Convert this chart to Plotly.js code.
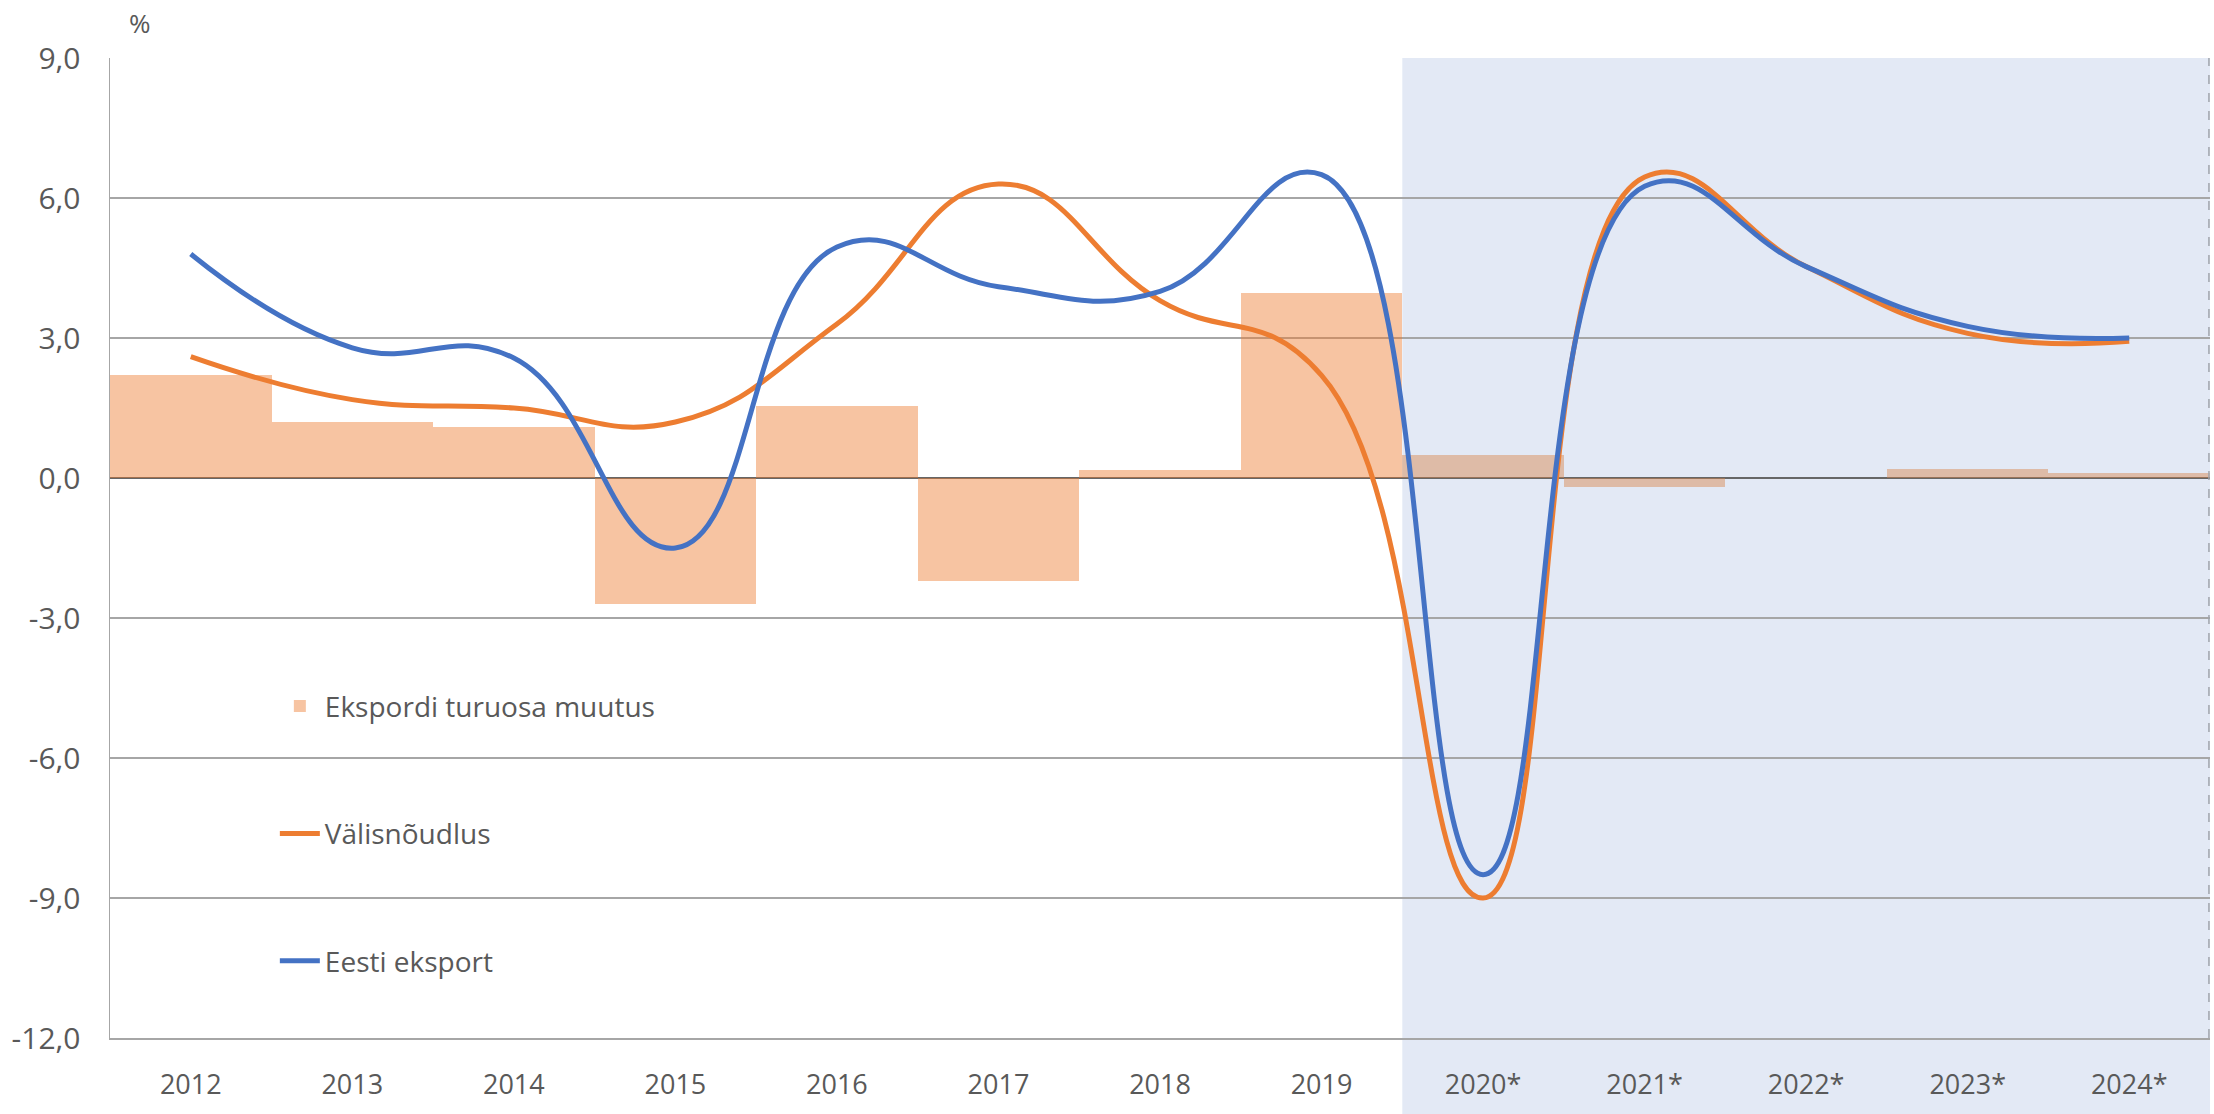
<!DOCTYPE html>
<html>
<head>
<meta charset="utf-8">
<script src="https://cdn.plot.ly/plotly-3.0.1.min.js"></script>
<style>
  html, body { margin: 0; padding: 0; background: #ffffff; }
  #chart { width: 2214px; height: 1114px; }
</style>
</head>
<body>
<div id="chart"></div>
<script>
// ---- data ----
const categories = ['2012', '2013', '2014', '2015', '2016', '2017', '2018', '2019',
                    '2020*', '2021*', '2022*', '2023*', '2024*'];
const turuosaMuutus = [2.2, 1.2, 1.1, -2.7, 1.55, -2.2, 0.18, 3.96, 0.5, -0.2, 0.0, 0.2, 0.1];
const valisnoudlus  = [2.6, 1.68, 1.5, 1.2, 3.3, 6.3, 3.8, 2.2, -9.0, 6.45, 4.53, 3.1, 2.93];
const eestiEksport  = [4.8, 2.79, 2.57, -1.5, 4.95, 4.1, 4.0, 6.5, -8.5, 6.25, 4.53, 3.25, 3.0];
const yTickValues   = [-12, -9, -6, -3, 0, 3, 6, 9];
const forecastStart = 8; // index of first forecast category (2020*)

// ---- styling ----
const FONT = 'Open Sans, Noto Sans, sans-serif';
const TXT = '#595959';
const barColors = categories.map((c, i) =>
  i >= forecastStart ? 'rgba(214,131,74,0.45)' : 'rgba(237,125,49,0.45)');
const yTickText = yTickValues.map(v => v.toFixed(1).replace('.', ','));

const traces = [
  {
    type: 'bar', name: 'Ekspordi turuosa muutus', legendgroup: 'a',
    x: categories, y: turuosaMuutus,
    marker: { color: barColors, line: { width: 0 } },
    hoverinfo: 'skip'
  },
  {
    type: 'scatter', mode: 'lines', name: 'Välisnõudlus', legendgroup: 'b',
    x: categories, y: valisnoudlus,
    line: { color: '#ED7D31', width: 5, shape: 'spline', smoothing: 1.3 },
    hoverinfo: 'skip'
  },
  {
    type: 'scatter', mode: 'lines', name: 'Eesti eksport', legendgroup: 'c',
    x: categories, y: eestiEksport,
    line: { color: '#4472C4', width: 5, shape: 'spline', smoothing: 1.3 },
    hoverinfo: 'skip'
  }
];

const layout = {
  width: 2214, height: 1114,
  margin: { l: 110, r: 4, t: 58, b: 76 },
  paper_bgcolor: '#ffffff',
  plot_bgcolor: 'rgba(0,0,0,0)',
  font: { family: FONT, color: TXT, size: 26 },
  bargap: 0,
  showlegend: true,
  legend: {
    x: 0.0785, y: 0.364, xanchor: 'left', yanchor: 'top',
    bgcolor: 'rgba(0,0,0,0)',
    font: { family: FONT, size: 28, color: TXT },
    traceorder: 'grouped', tracegroupgap: 88,
    itemwidth: 40
  },
  xaxis: {
    type: 'category', range: [-0.5, 12.5],
    showgrid: false, zeroline: false,
    showline: true, linecolor: '#A6A6A6', linewidth: 1.5,
    ticks: '', ticklabelstandoff: 22,
    tickfont: { family: FONT, size: 27, color: TXT },
    fixedrange: true
  },
  yaxis: {
    range: [-12, 9],
    tickmode: 'array', tickvals: yTickValues, ticktext: yTickText,
    showgrid: true, gridcolor: '#A6A6A6', gridwidth: 1.5,
    zeroline: true, zerolinecolor: '#666666', zerolinewidth: 2,
    showline: true, linecolor: '#A6A6A6', linewidth: 1.5,
    ticks: '', ticklabelstandoff: 22,
    tickfont: { family: FONT, size: 30, color: TXT },
    fixedrange: true
  },
  shapes: [
    {
      type: 'rect', layer: 'below',
      xref: 'x', yref: 'paper',
      x0: forecastStart - 0.5, x1: categories.length - 0.5,
      y0: -0.078, y1: 1,
      fillcolor: '#E3E9F5', line: { width: 0 }
    },
    {
      type: 'line', layer: 'above',
      xref: 'paper', yref: 'paper',
      x0: 0.9995, x1: 0.9995, y0: 0, y1: 1,
      line: { color: '#A0A4AC', width: 1.5, dash: 'dash' }
    }
  ],
  annotations: [
    {
      text: '%', xref: 'paper', yref: 'paper',
      x: (140 - 110) / 2100, y: 1 + (58 - 23) / 980,
      xanchor: 'center', yanchor: 'middle', showarrow: false,
      font: { family: FONT, size: 26, color: TXT }
    }
  ]
};

Plotly.newPlot('chart', traces, layout, { displayModeBar: false, staticPlot: true });
</script>
</body>
</html>
